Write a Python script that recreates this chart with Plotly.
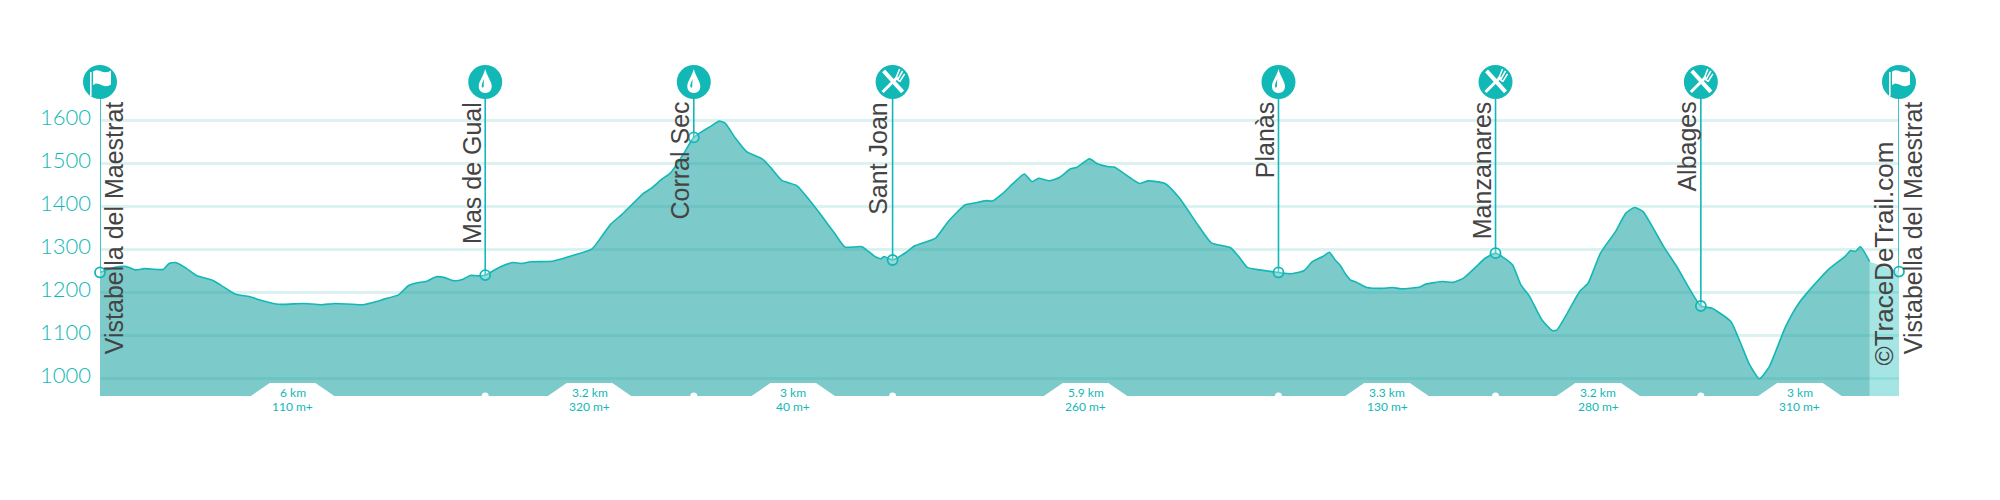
import plotly.graph_objects as go

# Elevation profile (distance km, altitude m)
dist_km = [0.00,0.23,0.40,0.55,0.68,0.97,1.06,1.16,1.32,1.48,1.74,1.87,2.07,2.29,2.48,2.74,3.13,3.39,3.61,4.03,4.23,4.36,4.58,4.73,4.87,5.00,5.16,5.29,5.42,5.55,5.68,5.84,5.91,6.13,6.33,6.46,6.62,6.94,7.20,7.55,7.68,7.84,8.00,8.33,8.46,8.62,8.75,8.94,9.11,9.26,
9.36,9.50,9.59,9.75,9.92,10.17,10.30,10.46,10.69,10.88,11.08,11.27,11.43,11.69,11.88,11.98,12.03,12.16,12.37,12.50,12.82,13.01,13.27,13.40,13.60,13.69,13.85,14.01,14.18,14.30,14.40,14.56,14.72,14.89,14.98,15.18,15.31,15.47,15.56,15.95,16.08,16.34,16.56,16.86,17.05,17.34,17.47,17.60,17.79,18.08,18.28,18.47,18.60,18.76,18.86,18.95,19.02,19.12,19.18,19.28,
19.44,19.67,19.83,19.96,20.25,20.34,20.60,20.76,20.92,21.09,21.25,21.41,21.51,21.67,21.80,21.93,22.12,22.28,22.35,22.51,22.70,22.83,23.02,23.25,23.41,23.54,23.67,23.99,24.19,24.56,24.73,25.02,25.15,25.31,25.46,25.61,25.86,26.06,26.25,26.54,26.77,26.86,26.93,27.01,27.15]
elevation_m = [1246,1258,1260,1252,1255,1253,1267,1269,1256,1239,1227,1215,1196,1190,1181,1172,1174,1171,1174,1171,1178,1184,1194,1215,1222,1225,1236,1234,1227,1229,1239,1238,1240,1258,1269,1267,1271,1272,1283,1301,1326,1359,1380,1429,1442,1463,1477,1519,1560,1576,
1585,1598,1593,1558,1527,1509,1488,1460,1448,1415,1376,1337,1305,1306,1284,1278,1283,1275,1293,1308,1326,1364,1403,1407,1413,1412,1430,1453,1475,1457,1465,1459,1467,1487,1490,1510,1498,1492,1491,1453,1459,1453,1419,1353,1315,1304,1283,1258,1252,1246,1243,1250,1271,1283,1293,1275,1264,1240,1229,1223,
1211,1209,1211,1208,1212,1219,1225,1223,1233,1256,1279,1291,1283,1264,1217,1191,1136,1111,1112,1151,1202,1221,1291,1341,1384,1397,1388,1306,1260,1168,1163,1132,1089,1031,999,1027,1120,1174,1209,1256,1283,1297,1295,1306,1271]

# The last stretch is drawn as a paler band up to the finish
tail_km = [27.15, 27.60]
tail_m = [1271, 1248]

# Waypoints
wp_names = ["Vistabella del Maestrat","Mas de Gual","Corral Sec","Sant Joan","Planàs","Manzanares","Albages","Vistabella del Maestrat"]
wp_km = [0.00,5.91,9.11,12.16,18.08,21.41,24.56,27.60]
wp_m = [1246,1240,1560,1275,1246,1291,1168,1248]
wp_icons = ["flag","drop","drop","food","drop","food","food","flag"]

# Stage labels
stage_dist = ["6 km","3.2 km","3 km","5.9 km","3.3 km","3.2 km","3 km"]
stage_gain = ["110 m+","320 m+","40 m+","260 m+","130 m+","280 m+","310 m+"]

y_ticks = [1000,1100,1200,1300,1400,1500,1600]
y_range = [958.8, 1740]
x_range = [0, 27.6]

TEAL = "#11b8b6"
DARK = "#444444"
ICON_Y = 1689
LABEL_Y = 1643

fig = go.Figure()

fig.add_trace(go.Scatter(x=tail_km, y=tail_m, mode="none", fill="tozeroy",
                         fillcolor="rgba(30,190,185,0.40)", hoverinfo="skip"))
fig.add_trace(go.Scatter(x=dist_km, y=elevation_m, mode="lines", fill="tozeroy",
                         fillcolor="rgba(19,159,159,0.55)",
                         line=dict(color=TEAL, width=1.6, shape="spline", smoothing=0.5), hoverinfo="skip"))

# Stems
for k, m in zip(wp_km, wp_m):
    fig.add_trace(go.Scatter(x=[k, k], y=[m, ICON_Y], mode="lines", cliponaxis=False,
                             line=dict(color=TEAL, width=1.6), hoverinfo="skip"))

# Small white notches on the baseline
fig.add_trace(go.Scatter(x=wp_km[1:-1], y=[y_range[0]] * 6, mode="markers",
                         marker=dict(color="white", size=7, line=dict(width=0)), hoverinfo="skip"))

# Waypoint rings and icon discs
fig.add_trace(go.Scatter(x=wp_km, y=wp_m, mode="markers", cliponaxis=False,
                         marker=dict(size=10, color="rgba(255,255,255,0.25)", line=dict(color=TEAL, width=1.8)),
                         hoverinfo="skip"))
fig.add_trace(go.Scatter(x=wp_km, y=[ICON_Y] * len(wp_km), mode="markers", cliponaxis=False,
                         marker=dict(size=34, color=TEAL, line=dict(width=0)), hoverinfo="skip"))

# Icons (x anchored on the paper so that the end flags are not clipped by the plot area)
def pix_shape(k, path, fill=None, stroke=None, width=0):
    d = dict(type="path", xref="paper", yref="y", xsizemode="pixel", ysizemode="pixel",
             xanchor=k / x_range[1], yanchor=ICON_Y, path=path, layer="above",
             line=dict(color=stroke if stroke else "rgba(0,0,0,0)", width=width))
    if fill:
        d["fillcolor"] = fill
    return d

shapes = []
FLAG_POLE = "M-10,-14 L-8.4,-14 L-8.4,10 L-10,10 Z"
FLAG_CLOTH = ("M-7,10.5 L-4,11.8 L-1,11.5 L2,10.3 L5,9.6 L8,10 L11,11.5 "
              "L11,-2.5 L8,-4 L5,-4.2 L2,-3.2 L-1,-2 L-4,-1.5 L-7,-3 Z")
for k, icon in zip(wp_km, wp_icons):
    if icon == "flag":
        shapes.append(pix_shape(k, FLAG_POLE, fill="white"))
        shapes.append(pix_shape(k, FLAG_CLOTH, fill="white"))
    elif icon == "drop":
        shapes.append(pix_shape(k, "M0,13 C-2,5 -6.5,1 -6.5,-4.5 C-6.5,-9 -3,-11 0,-11 C3,-11 6.5,-9 6.5,-4.5 C6.5,1 2,5 0,13 Z", fill="white"))
        shapes.append(pix_shape(k, "M-3.5,-4 C-3.5,-1 -2,1 -1,3 C-1.5,0 -1.5,-2 -1.5,-4 C-1.5,-6 -3.5,-6 -3.5,-4 Z", fill=TEAL))
    else:
        shapes.append(pix_shape(k, "M-9,11 L10,-10", stroke="white", width=4))
        shapes.append(pix_shape(k, "M-10,-10 L5,5", stroke="white", width=3))
        shapes.append(pix_shape(k, "M3,3 L7,13 M5,2 L10,11 M7,0 L12,8 M3.5,3.5 L7,0.5", stroke="white", width=1.6))

# Stage notches at the foot of the profile
annotations = []
NOTCH_TOP = 989
for i in range(7):
    mid = (wp_km[i] + wp_km[i + 1]) / 2
    shapes.append(dict(type="path", xref="x", yref="y", layer="above", fillcolor="white",
                       line=dict(width=0),
                       path=f"M{mid-0.64},{y_range[0]} L{mid-0.35},{NOTCH_TOP} L{mid+0.35},{NOTCH_TOP} L{mid+0.64},{y_range[0]} Z"))
    annotations.append(dict(x=mid, y=y_range[0], xref="x", yref="y", text=stage_dist[i], showarrow=False,
                            yanchor="middle", yshift=4, font=dict(family="Lato", size=12, color=TEAL)))
    annotations.append(dict(x=mid, y=y_range[0], xref="x", yref="y", text=stage_gain[i], showarrow=False,
                            yanchor="middle", yshift=-10, font=dict(family="Lato", size=12, color=TEAL)))

# Waypoint names
for i, (k, name) in enumerate(zip(wp_km, wp_names)):
    right = i in (0, len(wp_km) - 1)
    annotations.append(dict(x=k, y=LABEL_Y, xref="x", yref="y", text=name, showarrow=False, textangle=-90,
                            xanchor="left" if right else "right", yanchor="top",
                            xshift=0, borderpad=0, borderwidth=0,
                            font=dict(family="Liberation Sans", size=25, color=DARK)))

annotations.append(dict(x=27.6, y=1025, xref="x", yref="y", text="©TraceDeTrail.com", showarrow=False, textangle=-90,
                        xanchor="right", yanchor="bottom", xshift=2,
                        font=dict(family="Liberation Sans", size=26, color=DARK)))

fig.update_layout(
    width=2000, height=500, showlegend=False, plot_bgcolor="white", paper_bgcolor="white",
    margin=dict(l=92, r=109, t=52, b=112, autoexpand=False),
    shapes=shapes, annotations=annotations,
    xaxis=dict(range=x_range, visible=False, fixedrange=True),
    yaxis=dict(range=y_range, tickvals=y_ticks, ticks="", showline=False, zeroline=False,
               gridcolor="#dcf2f0", gridwidth=2.5, ticklabelstandoff=8, ticklabelshift=-3,
               tickfont=dict(family="Lato", size=22, color=TEAL, weight=300), fixedrange=True),
)

fig.write_html("out.html")
